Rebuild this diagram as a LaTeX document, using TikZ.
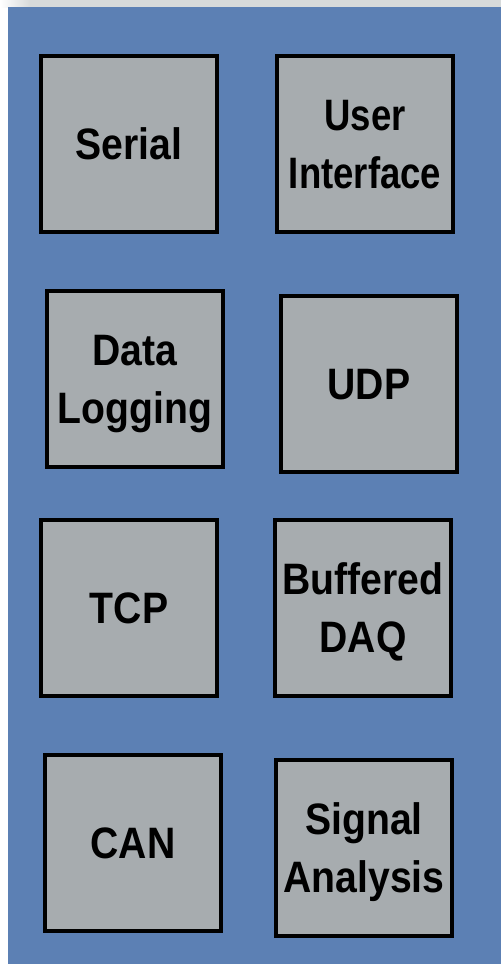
\documentclass[tikz,border=0pt]{standalone}
\usepackage{fontspec}
\newfontfamily\boxfont[FakeStretch=0.89]{Liberation Sans}
\newfontfamily\narrowboxfont[FakeStretch=0.83]{Liberation Sans}
\definecolor{bgblue}{RGB}{92,128,180}
\definecolor{boxgray}{RGB}{167,172,175}
\definecolor{stripgray}{RGB}{215,218,218}
\tikzset{
  modbox/.style={draw=black, line width=4pt, fill=boxgray, minimum width=176pt, minimum height=176pt,
    inner sep=0pt, outer sep=0pt, align=center, text depth=0pt,
    font=\boxfont\bfseries\fontsize{44}{58}\selectfont, text=black},
  narrowtext/.style={font=\narrowboxfont\bfseries\fontsize{44}{58}\selectfont}
}
\begin{document}
\begin{tikzpicture}[x=1pt,y=-1pt]
\useasboundingbox (0,0) rectangle (501,964);
\fill[white] (0,0) rectangle (501,964);
\fill[stripgray] (30,0) rectangle (501,7);
\shade[left color=white, right color=stripgray] (0,0) rectangle (30,7);
\fill[bgblue] (8,7) rectangle (501,964);
\node[modbox] (serial) at (129,143.5) {Serial};
\node[modbox, narrowtext] (ui) at (365,144) {User\\Interface};
\node[modbox] (log) at (135,379) {Data\\Logging};
\node[modbox] (udp) at (369,384) {UDP};
\node[modbox] (tcp) at (129,608) {TCP};
\node[modbox] (daq) at (363,608) {Buffered\\DAQ};
\node[modbox] (can) at (133,843) {CAN};
\node[modbox] (sig) at (364,848) {Signal\\Analysis};
\end{tikzpicture}
\end{document}
